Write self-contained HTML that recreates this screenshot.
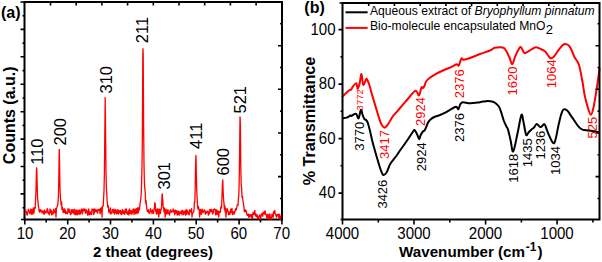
<!DOCTYPE html>
<html><head><meta charset="utf-8"><style>
html,body{margin:0;padding:0;background:#fff;width:602px;height:262px;overflow:hidden}
svg{display:block}
text{font-family:"Liberation Sans",sans-serif}
</style></head><body>
<svg width="602" height="262" viewBox="0 0 602 262">
<rect width="602" height="262" fill="#fff"/>
<!-- (a) -->
<text x="1" y="18" font-size="16" font-weight="bold">(a)</text>
<rect x="24.5" y="2" width="257.5" height="217.5" fill="none" stroke="#000" stroke-width="2"/>
<path d="M24.8,219.5v5 M46.2,219.5v3 M67.7,219.5v5 M89.1,219.5v3 M110.5,219.5v5 M131.9,219.5v3 M153.4,219.5v5 M174.8,219.5v3 M196.2,219.5v5 M217.6,219.5v3 M239.1,219.5v5 M260.5,219.5v3 M281.9,219.5v5 M50.5,2.5v3 M76.2,2.5v3 M101.9,2.5v3 M127.6,2.5v3 M153.3,2.5v3 M179.0,2.5v3 M204.7,2.5v3 M230.4,2.5v3 M256.1,2.5v3 M24.5,219.5h-3.5 M24.5,2.0h-4 M24.5,15.7h-2 M24.5,29.4h-4 M24.5,43.1h-2 M24.5,56.8h-4 M24.5,70.6h-2 M24.5,84.3h-4 M24.5,98.0h-2 M24.5,111.7h-4 M24.5,125.4h-2 M24.5,139.1h-4 M24.5,152.8h-2 M24.5,166.5h-4 M24.5,180.2h-2 M24.5,193.9h-4 M24.5,207.7h-2 M282,23.8h-2 M282,45.7h-4 M282,67.5h-2 M282,89.3h-4 M282,111.1h-2 M282,133.0h-4 M282,154.8h-2 M282,176.6h-4 M282,198.5h-2" stroke="#000" stroke-width="1.6" fill="none"/>
<polyline points="25.6,209.4 26.0,213.8 26.4,211.6 26.8,213.5 27.2,215.1 27.6,212.3 28.0,212.0 28.4,209.2 28.8,210.5 29.2,211.9 29.6,213.0 30.0,213.8 30.4,211.1 30.8,209.0 31.2,210.4 31.6,214.3 32.0,209.7 32.4,211.1 32.8,214.0 33.2,208.0 33.6,211.4 34.0,213.1 34.4,207.7 34.8,208.4 35.2,208.2 35.6,198.3 36.0,190.0 36.4,171.7 36.6,168.0 36.8,169.2 37.2,186.1 37.6,198.1 38.0,202.4 38.4,206.1 38.8,207.4 39.2,211.7 39.6,212.1 40.0,209.7 40.4,211.6 40.8,209.9 41.2,211.2 41.6,210.7 42.0,212.7 42.4,210.9 42.8,211.5 43.2,213.2 43.6,211.3 44.0,214.5 44.4,209.8 44.8,213.4 45.2,211.4 45.6,211.4 46.0,212.8 46.4,212.1 46.8,211.4 47.2,208.7 47.6,209.3 48.0,213.3 48.4,212.1 48.8,213.2 49.2,214.8 49.6,213.1 50.0,209.0 50.4,210.6 50.8,212.4 51.2,210.1 51.6,214.8 52.0,214.6 52.4,214.0 52.8,211.5 53.2,213.8 53.6,209.2 54.0,210.2 54.4,211.1 54.8,212.8 55.2,210.9 55.6,208.5 56.0,217.0 56.4,208.8 56.8,208.0 57.2,206.0 57.6,205.7 58.0,202.3 58.4,196.8 58.8,179.5 59.2,151.1 59.3,149.5 59.6,164.3 60.0,188.2 60.4,196.8 60.8,201.8 61.2,205.2 61.6,201.9 62.0,209.6 62.4,207.5 62.8,210.0 63.2,212.7 63.6,212.5 64.0,209.0 64.4,212.4 64.8,208.8 65.2,210.7 65.6,213.7 66.0,211.3 66.4,212.4 66.8,213.3 67.2,213.9 67.6,213.5 68.0,208.7 68.4,211.4 68.8,211.7 69.2,209.1 69.6,212.2 70.0,212.7 70.4,214.1 70.8,214.8 71.2,209.6 71.6,210.3 72.0,213.0 72.4,209.7 72.8,210.3 73.2,212.5 73.6,209.9 74.0,213.9 74.4,214.3 74.8,209.1 75.2,212.3 75.6,214.0 76.0,215.1 76.4,210.6 76.8,210.0 77.2,214.5 77.6,214.7 78.0,210.1 78.4,211.7 78.8,213.5 79.2,214.3 79.6,210.0 80.0,213.1 80.4,214.0 80.8,212.4 81.2,209.9 81.6,209.1 82.0,210.7 82.4,214.0 82.8,209.2 83.2,208.9 83.6,211.2 84.0,209.3 84.4,209.8 84.8,209.0 85.2,212.2 85.6,213.3 86.0,211.6 86.4,209.7 86.8,211.0 87.2,212.6 87.6,214.9 88.0,215.2 88.4,210.4 88.8,208.9 89.2,214.1 89.6,214.7 90.0,211.7 90.4,213.7 90.8,214.3 91.2,212.7 91.6,214.4 92.0,208.9 92.4,210.5 92.8,210.5 93.2,209.5 93.6,214.5 94.0,208.9 94.4,213.0 94.8,209.1 95.2,210.9 95.6,211.3 96.0,209.7 96.4,211.8 96.8,211.9 97.2,210.4 97.6,213.1 98.0,209.3 98.4,209.4 98.8,210.4 99.2,210.4 99.6,209.2 100.0,213.6 100.4,212.8 100.8,207.9 101.2,209.2 101.6,207.8 102.0,217.0 102.4,206.3 102.8,206.1 103.2,206.1 103.6,198.0 104.0,191.0 104.4,172.7 104.8,134.5 105.2,97.7 105.6,132.9 106.0,172.3 106.4,187.6 106.8,194.3 107.2,201.9 107.6,205.6 108.0,207.5 108.4,205.9 108.8,212.2 109.2,212.8 109.6,209.8 110.0,211.2 110.4,207.9 110.8,214.2 111.2,213.2 111.6,212.2 112.0,213.1 112.4,209.5 112.8,210.3 113.2,210.0 113.6,212.3 114.0,209.1 114.4,214.2 114.8,211.5 115.2,211.4 115.6,209.3 116.0,213.0 116.4,213.9 116.8,212.7 117.2,210.2 117.6,213.7 118.0,209.6 118.4,214.0 118.8,212.4 119.2,210.6 119.6,212.0 120.0,212.8 120.4,210.4 120.8,214.2 121.2,211.4 121.6,214.5 122.0,214.1 122.4,209.4 122.8,212.9 123.2,210.7 123.6,213.6 124.0,212.2 124.4,211.7 124.8,214.5 125.2,209.1 125.6,212.3 126.0,210.8 126.4,209.0 126.8,213.5 127.2,212.3 127.6,214.4 128.0,212.5 128.4,210.8 128.8,215.0 129.2,209.4 129.6,209.0 130.0,213.3 130.4,211.0 130.8,210.9 131.2,214.2 131.6,210.6 132.0,214.2 132.4,212.6 132.8,210.6 133.2,208.8 133.6,209.9 134.0,214.5 134.4,210.9 134.8,209.2 135.2,210.0 135.6,213.8 136.0,209.0 136.4,212.8 136.8,208.5 137.2,213.6 137.6,210.7 138.0,207.3 138.4,212.6 138.8,208.5 139.2,210.2 139.6,208.0 140.0,203.9 140.4,202.0 140.8,199.0 141.2,193.8 141.6,183.8 142.0,165.9 142.4,133.0 142.8,55.8 143.0,48.7 143.2,54.3 143.6,123.8 144.0,164.0 144.4,182.1 144.8,188.6 145.2,192.0 145.6,203.0 146.0,200.4 146.4,205.1 146.8,207.8 147.2,211.2 147.6,211.6 148.0,210.7 148.4,209.7 148.8,212.8 149.2,213.2 149.6,213.4 150.0,212.5 150.4,208.7 150.8,210.0 151.2,211.3 151.6,211.5 152.0,213.6 152.4,209.9 152.8,212.6 153.2,210.8 153.6,213.3 154.0,208.8 154.4,208.2 154.8,202.7 155.2,203.4 155.6,211.2 156.0,209.7 156.4,214.1 156.8,211.9 157.2,208.8 157.6,213.6 158.0,208.8 158.4,213.7 158.8,217.0 159.2,212.5 159.6,209.1 160.0,210.0 160.4,213.5 160.8,209.8 161.2,209.4 161.6,206.6 162.0,195.5 162.3,194.0 162.4,197.1 162.8,199.9 163.2,207.4 163.6,207.9 164.0,211.9 164.4,207.9 164.8,211.3 165.2,217.0 165.6,213.1 166.0,209.2 166.4,213.9 166.8,210.1 167.2,213.8 167.6,211.9 168.0,209.7 168.4,213.4 168.8,213.9 169.2,213.2 169.6,215.0 170.0,210.4 170.4,210.3 170.8,209.8 171.2,212.3 171.6,211.4 172.0,211.1 172.4,211.8 172.8,210.6 173.2,208.9 173.6,211.9 174.0,210.6 174.4,211.7 174.8,214.8 175.2,210.0 175.6,212.9 176.0,213.0 176.4,210.7 176.8,211.9 177.2,215.1 177.6,211.1 178.0,213.4 178.4,214.2 178.8,211.2 179.2,215.2 179.6,212.9 180.0,212.1 180.4,213.4 180.8,211.6 181.2,213.4 181.6,210.6 182.0,214.8 182.4,212.3 182.8,210.4 183.2,211.6 183.6,214.6 184.0,214.0 184.4,211.9 184.8,211.0 185.2,211.2 185.6,215.1 186.0,209.5 186.4,214.4 186.8,214.2 187.2,210.2 187.6,210.9 188.0,212.3 188.4,213.8 188.8,214.7 189.2,214.9 189.6,210.3 190.0,209.7 190.4,211.5 190.8,211.9 191.2,212.4 191.6,208.7 192.0,217.0 192.4,213.5 192.8,213.1 193.2,212.7 193.6,211.7 194.0,210.5 194.4,202.0 194.8,202.4 195.2,187.1 195.6,164.5 195.9,155.5 196.0,156.6 196.4,177.8 196.8,191.9 197.2,199.5 197.6,207.0 198.0,209.1 198.4,206.4 198.8,208.2 199.2,209.6 199.6,217.0 200.0,211.5 200.4,209.5 200.8,211.9 201.2,214.3 201.6,213.8 202.0,209.1 202.4,209.9 202.8,211.2 203.2,212.7 203.6,211.1 204.0,210.3 204.4,210.9 204.8,210.0 205.2,214.2 205.6,213.2 206.0,211.4 206.4,213.2 206.8,212.1 207.2,212.1 207.6,211.1 208.0,211.9 208.4,215.1 208.8,213.8 209.2,214.1 209.6,209.6 210.0,212.0 210.4,211.2 210.8,209.4 211.2,211.3 211.6,209.3 212.0,210.3 212.4,213.9 212.8,213.2 213.2,213.2 213.6,209.3 214.0,209.8 214.4,208.9 214.8,209.4 215.2,209.4 215.6,214.8 216.0,214.4 216.4,210.0 216.8,210.2 217.2,214.7 217.6,212.2 218.0,210.8 218.4,211.4 218.8,217.0 219.2,211.8 219.6,212.5 220.0,210.9 220.4,212.3 220.8,206.8 221.2,208.3 221.6,207.5 222.0,195.4 222.4,184.2 222.7,180.0 222.8,180.0 223.2,193.4 223.6,199.5 224.0,204.0 224.4,209.5 224.8,205.6 225.2,212.2 225.6,208.2 226.0,217.0 226.4,211.2 226.8,211.3 227.2,208.6 227.6,210.4 228.0,210.7 228.4,214.6 228.8,214.4 229.2,212.2 229.6,214.5 230.0,214.0 230.4,210.9 230.8,209.2 231.2,212.4 231.6,210.5 232.0,208.5 232.4,214.7 232.8,214.5 233.2,211.7 233.6,212.2 234.0,212.4 234.4,214.0 234.8,210.9 235.2,211.4 235.6,208.9 236.0,208.6 236.4,209.9 236.8,207.3 237.2,204.9 237.6,205.4 238.0,205.3 238.4,198.3 238.8,195.3 239.2,181.3 239.6,153.2 240.0,117.0 240.1,117.0 240.4,126.4 240.8,167.5 241.2,184.8 241.6,187.8 242.0,197.3 242.4,196.1 242.8,199.8 243.2,202.0 243.6,205.1 244.0,207.4 244.4,211.9 244.8,210.5 245.2,209.8 245.6,211.5 246.0,210.7 246.4,211.5 246.8,214.3 247.2,215.3 247.6,214.4 248.0,215.6 248.4,214.1 248.8,217.3 249.2,215.8 249.6,214.6 250.0,216.5 250.4,214.9 250.8,215.3 251.2,214.4 251.6,217.9 252.0,214.9 252.4,218.2 252.8,214.4 253.2,212.1 253.6,214.3 254.0,213.7 254.4,214.3 254.8,210.4 255.2,214.8 255.6,216.1 256.0,213.9 256.4,215.5 256.8,216.9 257.2,215.0 257.6,218.7 258.0,217.8 258.4,218.7 258.8,216.4 259.2,216.8 259.6,215.0 260.0,215.7 260.4,218.0 260.8,219.2 261.2,214.6 261.6,213.9 262.0,213.6 262.4,215.1 262.8,216.3 263.2,212.1 263.6,212.7 264.0,212.4 264.4,214.2 264.8,210.9 265.2,211.0 265.6,214.7 266.0,214.7 266.4,214.9 266.8,217.9 267.2,217.6 267.6,214.4 268.0,217.0 268.4,218.4 268.8,219.0 269.2,214.0 269.6,218.5 270.0,214.2 270.4,217.8 270.8,217.3 271.2,219.3 271.6,217.4 272.0,214.1 272.4,217.2 272.8,214.4 273.2,217.0 273.6,211.6 274.0,212.3 274.4,213.5 274.8,210.3 275.2,213.4 275.6,214.4 276.0,215.5 276.4,217.2 276.8,215.3 277.2,214.3 277.6,215.2 278.0,216.1 278.4,214.2 278.8,217.9 279.2,214.3 279.6,214.3 280.0,219.2 280.4,218.5 280.8,215.4" fill="none" stroke="#f00" stroke-width="1.3" stroke-linejoin="round"/>
<g font-size="16">
<text transform="translate(25,239) scale(0.94,1)" text-anchor="middle">10</text>
<text transform="translate(67.6,239) scale(0.94,1)" text-anchor="middle">20</text>
<text transform="translate(110.5,239) scale(0.94,1)" text-anchor="middle">30</text>
<text transform="translate(153.4,239) scale(0.94,1)" text-anchor="middle">40</text>
<text transform="translate(196,239) scale(0.94,1)" text-anchor="middle">50</text>
<text transform="translate(238.8,239) scale(0.94,1)" text-anchor="middle">60</text>
<text transform="translate(281.7,239) scale(0.94,1)" text-anchor="middle">70</text>
</g>
<text x="153" y="256.5" font-size="15" font-weight="bold" text-anchor="middle">2 theat (degrees)</text>
<text transform="translate(14.8,115.3) rotate(-90)" font-size="16" font-weight="bold" text-anchor="middle">Counts (a.u.)</text>
<text transform="translate(43.1,164.8) rotate(-90)" font-size="16.5" fill="#000" >110</text>
<text transform="translate(66.1,145.5) rotate(-90)" font-size="16.5" fill="#000" >200</text>
<text transform="translate(112.1,93.5) rotate(-90)" font-size="16.5" fill="#000" >310</text>
<text transform="translate(148.3,43.2) rotate(-90)" font-size="16.5" fill="#000" >211</text>
<text transform="translate(169.7,189.5) rotate(-90)" font-size="16.5" fill="#000" >301</text>
<text transform="translate(201.7,148.9) rotate(-90)" font-size="16.5" fill="#000" >411</text>
<text transform="translate(228.7,175.5) rotate(-90)" font-size="16.5" fill="#000" >600</text>
<text transform="translate(245.7,113.5) rotate(-90)" font-size="16.5" fill="#000" >521</text>

<!-- (b) -->
<text x="304.3" y="13.3" font-size="16" font-weight="bold">(b)</text>
<path d="M342,118.3 C342.77,118.18 345.17,118.07 346.6,117.6 C348.03,117.13 349.75,115.77 350.6,115.5 C351.45,115.23 351.22,116.17 351.7,116 C352.18,115.83 352.73,114.83 353.5,114.5 C354.27,114.17 355.45,113.37 356.3,114 C357.15,114.63 357.83,119.02 358.6,118.3 C359.37,117.58 360.23,110.27 360.9,109.7 C361.57,109.13 362.03,113.37 362.6,114.9 C363.17,116.43 363.73,118.05 364.3,118.9 C364.87,119.75 365.42,119.33 366,120 C366.58,120.67 367.13,121.07 367.8,122.9 C368.47,124.73 369.25,127.98 370,131 C370.75,134.02 371.60,138.17 372.3,141 C373.00,143.83 373.28,144.75 374.2,148 C375.12,151.25 376.73,156.92 377.8,160.5 C378.87,164.08 379.68,167.08 380.6,169.5 C381.52,171.92 382.28,174.55 383.3,175 C384.32,175.45 385.50,174.10 386.7,172.2 C387.90,170.30 388.90,166.30 390.5,163.6 C392.10,160.90 394.72,158.18 396.3,156 C397.88,153.82 398.25,153.00 400,150.5 C401.75,148.00 404.70,144.03 406.8,141 C408.90,137.97 411.32,134.13 412.6,132.3 C413.88,130.47 413.77,129.72 414.5,130 C415.23,130.28 416.23,132.48 417,134 C417.77,135.52 418.50,138.88 419.1,139.1 C419.70,139.32 419.97,136.57 420.6,135.3 C421.23,134.03 422.27,132.27 422.9,131.5 C423.53,130.73 423.88,131.35 424.4,130.7 C424.92,130.05 425.37,129.00 426,127.6 C426.63,126.20 427.37,123.73 428.2,122.3 C429.03,120.87 429.98,119.88 431,119 C432.02,118.12 432.80,117.67 434.3,117 C435.80,116.33 438.08,115.77 440,115 C441.92,114.23 444.27,113.18 445.8,112.4 C447.33,111.62 447.50,111.23 449.2,110.3 C450.90,109.37 454.48,107.00 456,106.8 C457.52,106.60 457.55,109.57 458.3,109.1 C459.05,108.63 459.73,105.15 460.5,104 C461.27,102.85 461.23,102.32 462.9,102.2 C464.57,102.08 467.65,103.30 470.5,103.3 C473.35,103.30 477.15,102.58 480,102.2 C482.85,101.82 485.60,101.12 487.6,101 C489.60,100.88 490.72,101.17 492,101.5 C493.28,101.83 494.13,102.12 495.3,103 C496.47,103.88 497.98,105.15 499,106.8 C500.02,108.45 500.62,110.62 501.4,112.9 C502.18,115.18 502.85,118.22 503.7,120.5 C504.55,122.78 505.78,125.10 506.5,126.6 C507.22,128.10 507.32,127.20 508,129.5 C508.68,131.80 509.73,136.73 510.6,140.4 C511.47,144.07 512.05,152.65 513.2,151.5 C514.35,150.35 516.13,139.58 517.5,133.5 C518.87,127.42 520.40,116.92 521.4,115 C522.40,113.08 522.72,118.70 523.5,122 C524.28,125.30 525.27,133.05 526.1,134.8 C526.93,136.55 527.60,133.40 528.5,132.5 C529.40,131.60 530.63,130.17 531.5,129.4 C532.37,128.63 532.82,128.78 533.7,127.9 C534.58,127.02 535.65,124.23 536.8,124.1 C537.95,123.97 539.33,127.10 540.6,127.1 C541.87,127.10 543.38,123.72 544.4,124.1 C545.42,124.48 545.80,127.23 546.7,129.4 C547.60,131.57 548.52,134.87 549.8,137.1 C551.08,139.33 552.93,144.85 554.4,142.8 C555.87,140.75 557.50,129.43 558.6,124.8 C559.70,120.17 560.20,117.55 561,115 C561.80,112.45 562.37,110.25 563.4,109.5 C564.43,108.75 566.10,109.70 567.2,110.5 C568.30,111.30 568.88,112.72 570,114.3 C571.12,115.88 572.47,117.93 573.9,120 C575.33,122.07 577.18,125.10 578.6,126.7 C580.02,128.30 580.80,128.97 582.4,129.6 C584.00,130.23 586.27,130.22 588.2,130.5 C590.13,130.78 592.17,130.98 594,131.3 C595.83,131.62 598.33,132.22 599.2,132.4" fill="none" stroke="#000" stroke-width="2" stroke-linejoin="round"/>
<path d="M342,97 C343.15,95.93 347.37,91.85 348.9,90.6 C350.43,89.35 350.53,90.17 351.2,89.5 C351.87,88.83 352.05,87.65 352.9,86.6 C353.75,85.55 355.52,82.83 356.3,83.2 C357.08,83.57 357.07,88.67 357.6,88.8 C358.13,88.93 358.85,86.47 359.5,84 C360.15,81.53 360.88,73.85 361.5,74 C362.12,74.15 362.45,84.03 363.2,84.9 C363.95,85.77 365.33,80.07 366,79.2 C366.67,78.33 366.62,78.65 367.2,79.7 C367.78,80.75 368.70,83.02 369.5,85.5 C370.30,87.98 371.18,91.75 372,94.6 C372.82,97.45 373.62,99.98 374.4,102.6 C375.18,105.22 375.93,107.75 376.7,110.3 C377.47,112.85 378.23,115.62 379,117.9 C379.77,120.18 380.43,122.38 381.3,124 C382.17,125.62 383.32,127.27 384.2,127.6 C385.08,127.93 385.88,126.68 386.6,126 C387.32,125.32 387.77,124.63 388.5,123.5 C389.23,122.37 390.20,120.52 391,119.2 C391.80,117.88 392.42,116.73 393.3,115.6 C394.18,114.47 395.18,113.67 396.3,112.4 C397.42,111.13 398.43,109.83 400,108 C401.57,106.17 403.98,103.40 405.7,101.4 C407.42,99.40 408.78,97.73 410.3,96 C411.82,94.27 413.67,91.63 414.8,91 C415.93,90.37 416.38,91.48 417.1,92.2 C417.82,92.92 418.37,96.08 419.1,95.3 C419.83,94.52 420.85,88.72 421.5,87.5 C422.15,86.28 422.48,88.33 423,88 C423.52,87.67 424.08,86.58 424.6,85.5 C425.12,84.42 425.33,82.72 426.1,81.5 C426.87,80.28 427.67,79.40 429.2,78.2 C430.73,77.00 433.02,75.58 435.3,74.3 C437.58,73.02 440.37,71.67 442.9,70.5 C445.43,69.33 448.22,68.35 450.5,67.3 C452.78,66.25 455.23,64.50 456.6,64.2 C457.97,63.90 457.90,66.43 458.7,65.5 C459.50,64.57 460.57,59.57 461.4,58.6 C462.23,57.63 462.27,59.80 463.7,59.7 C465.13,59.60 467.28,58.95 470,58 C472.72,57.05 476.67,55.25 480,54 C483.33,52.75 487.57,51.53 490,50.5 C492.43,49.47 492.88,48.35 494.6,47.8 C496.32,47.25 498.77,47.20 500.3,47.2 C501.83,47.20 502.85,47.23 503.8,47.8 C504.75,48.37 505.05,48.98 506,50.6 C506.95,52.22 508.47,55.22 509.5,57.5 C510.53,59.78 511.25,64.50 512.2,64.3 C513.15,64.10 514.13,58.77 515.2,56.3 C516.27,53.83 517.65,51.02 518.6,49.5 C519.55,47.98 519.95,46.63 520.9,47.2 C521.85,47.77 523.15,52.15 524.3,52.9 C525.45,53.65 526.65,52.27 527.8,51.7 C528.95,51.13 529.87,50.25 531.2,49.5 C532.53,48.75 534.33,47.33 535.8,47.2 C537.27,47.07 538.53,48.07 540,48.7 C541.47,49.33 543.35,50.03 544.6,51 C545.85,51.97 546.55,53.30 547.5,54.5 C548.45,55.70 549.27,57.80 550.3,58.2 C551.33,58.60 552.17,58.48 553.7,56.9 C555.23,55.32 557.78,50.82 559.5,48.7 C561.22,46.58 562.48,44.77 564,44.2 C565.52,43.63 567.35,44.33 568.6,45.3 C569.85,46.27 570.55,48.10 571.5,50 C572.45,51.90 573.07,54.25 574.3,56.7 C575.53,59.15 577.57,60.68 578.9,64.7 C580.23,68.72 581.35,75.75 582.3,80.8 C583.25,85.85 583.68,90.55 584.6,95 C585.52,99.45 586.75,104.20 587.8,107.5 C588.85,110.80 589.95,114.80 590.9,114.8 C591.85,114.80 592.68,110.88 593.5,107.5 C594.32,104.12 595.05,99.08 595.8,94.5 C596.55,89.92 597.37,84.42 598,80 C598.63,75.58 599.33,70.00 599.6,68" fill="none" stroke="#f00" stroke-width="2" stroke-linejoin="round"/>
<rect x="342.5" y="3" width="257" height="216.5" fill="none" stroke="#000" stroke-width="2"/>
<path d="M342.5,219.5v5 M378.3,219.5v3 M414.0,219.5v5 M449.8,219.5v3 M485.6,219.5v5 M521.4,219.5v3 M557.1,219.5v5 M592.9,219.5v3 M368.7,3v3 M394.4,3v3 M420.2,3v3 M445.9,3v3 M471.6,3v3 M497.3,3v3 M523.0,3v3 M548.8,3v3 M574.5,3v3 M342.5,193.1h-4 M342.5,165.8h-2 M342.5,138.6h-4 M342.5,111.3h-2 M342.5,84.1h-4 M342.5,56.9h-2 M342.5,29.6h-4 M342.5,3h-3 M342.5,219.5h-2 M599.5,23.8h-2 M599.5,45.7h-4 M599.5,67.5h-2 M599.5,89.3h-4 M599.5,111.1h-2 M599.5,133.0h-4 M599.5,154.8h-2 M599.5,176.6h-4 M599.5,198.5h-2" stroke="#000" stroke-width="1.6" fill="none"/>
<line x1="345.5" y1="12.3" x2="367.6" y2="12.3" stroke="#000" stroke-width="2"/>
<line x1="345.5" y1="27.9" x2="367.6" y2="27.9" stroke="#f00" stroke-width="2"/>
<text x="370" y="15.3" font-size="12.15">Aqueous extract of <tspan font-style="italic">Bryophyllum pinnatum</tspan></text>
<text x="370" y="30.4" font-size="12.15">Bio-molecule encapsulated MnO<tspan font-size="13" dx="0.3" dy="4">2</tspan></text>
<g font-size="16" text-anchor="end">
<text transform="translate(335.5,34.8) scale(0.94,1)">100</text>
<text transform="translate(335.5,89.3) scale(0.94,1)">80</text>
<text transform="translate(335.5,143.8) scale(0.94,1)">60</text>
<text transform="translate(335.5,198.3) scale(0.94,1)">40</text>
</g>
<g font-size="16" text-anchor="middle">
<text transform="translate(342.5,239) scale(0.94,1)">4000</text>
<text transform="translate(414,239) scale(0.94,1)">3000</text>
<text transform="translate(485.5,239) scale(0.94,1)">2000</text>
<text transform="translate(557,239) scale(0.94,1)">1000</text>
</g>
<text x="399" y="257" font-size="15.2" font-weight="bold">Wavenumber (cm<tspan font-size="12" dx="0.8" dy="-6.5">-1</tspan><tspan dx="1" dy="6.5">)</tspan></text>
<text transform="translate(314.8,121) rotate(-90)" font-size="16.2" font-weight="bold" text-anchor="middle">% Transmittance</text>
<text transform="translate(364,150.8) rotate(-90)" font-size="13" fill="#000" >3770</text>
<text transform="translate(363.2,110.4) rotate(-90)" font-size="9.5" fill="#f00" >3772</text>
<text transform="translate(389.2,158.9) rotate(-90)" font-size="13" fill="#f00" >3417</text>
<text transform="translate(387,208.6) rotate(-90)" font-size="13" fill="#000" >3426</text>
<text transform="translate(425,126) rotate(-90)" font-size="13" fill="#f00" >2924</text>
<text transform="translate(425.5,171.3) rotate(-90)" font-size="13" fill="#000" >2924</text>
<text transform="translate(464.3,98.2) rotate(-90)" font-size="13" fill="#f00" >2376</text>
<text transform="translate(463.6,142) rotate(-90)" font-size="13" fill="#000" >2376</text>
<text transform="translate(517.2,95.5) rotate(-90)" font-size="13" fill="#f00" >1620</text>
<text transform="translate(517.8,182.7) rotate(-90)" font-size="13" fill="#000" >1618</text>
<text transform="translate(531.7,167.3) rotate(-90)" font-size="13" fill="#000" >1435</text>
<text transform="translate(544.6,159.6) rotate(-90)" font-size="13" fill="#000" >1236</text>
<text transform="translate(555.8,88.2) rotate(-90)" font-size="13" fill="#f00" >1064</text>
<text transform="translate(560,175) rotate(-90)" font-size="13" fill="#000" >1034</text>
<text transform="translate(597.3,138.4) rotate(-90)" font-size="13" fill="#f00" >525</text>
</svg>
</body></html>
